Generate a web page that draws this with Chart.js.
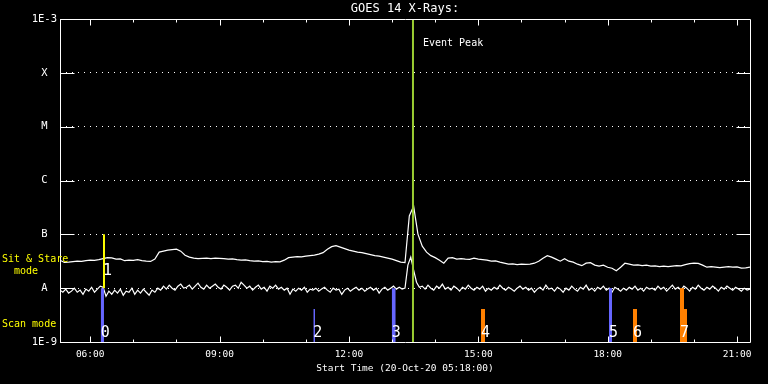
<!DOCTYPE html>
<html><head><meta charset="utf-8">
<script src="https://cdn.jsdelivr.net/npm/chart.js"></script>
<style>html,body{margin:0;padding:0;background:#000;}canvas{display:block;background:#000;}</style>
</head><body>
<canvas id="c" width="768" height="384"></canvas>
<script>
const MONO = '"DejaVu Sans Mono", "Liberation Mono", monospace';
// time axis in hours of day (20-Oct-2020), start 05:18
const START_H = 5.3, END_H = 21.3;
const LONG_STEP_H = 0.1;     // 6-minute cadence (1-8 A channel)
const SHORT_STEP_H = 1 / 15; // 4-minute cadence (0.5-4 A channel)

const longFlux = [
3.31e-8,3.0e-8,3.04e-8,3.11e-8,3.17e-8,3.14e-8,3.24e-8,3.31e-8,3.28e-8,3.38e-8,
3.53e-8,3.69e-8,3.66e-8,3.46e-8,3.49e-8,3.24e-8,3.31e-8,3.28e-8,3.38e-8,3.24e-8,
3.17e-8,3.14e-8,3.46e-8,4.67e-8,4.87e-8,5.08e-8,5.19e-8,5.3e-8,4.87e-8,4.1e-8,
3.77e-8,3.61e-8,3.53e-8,3.57e-8,3.61e-8,3.53e-8,3.61e-8,3.57e-8,3.53e-8,3.46e-8,
3.49e-8,3.38e-8,3.31e-8,3.34e-8,3.24e-8,3.17e-8,3.2e-8,3.11e-8,3.14e-8,3.04e-8,
3.11e-8,3.08e-8,3.31e-8,3.69e-8,3.77e-8,3.85e-8,3.81e-8,3.93e-8,4.02e-8,4.1e-8,
4.28e-8,4.57e-8,5.3e-8,5.9e-8,6.16e-8,5.78e-8,5.42e-8,5.08e-8,4.87e-8,4.67e-8,
4.57e-8,4.37e-8,4.19e-8,4.02e-8,3.93e-8,3.77e-8,3.61e-8,3.46e-8,3.24e-8,3.04e-8,
2.98e-8,2.2e-7,3.35e-7,1.01e-7,6.03e-8,4.67e-8,4.02e-8,3.69e-8,3.31e-8,2.91e-8,
3.61e-8,3.69e-8,3.46e-8,3.53e-8,3.46e-8,3.42e-8,3.61e-8,3.46e-8,3.38e-8,3.31e-8,
3.17e-8,3.2e-8,3.04e-8,2.91e-8,2.79e-8,2.82e-8,2.73e-8,2.79e-8,2.76e-8,2.79e-8,
2.91e-8,3.17e-8,3.61e-8,4.02e-8,3.77e-8,3.46e-8,3.17e-8,3.53e-8,3.17e-8,3.04e-8,
2.79e-8,2.62e-8,2.91e-8,2.98e-8,2.68e-8,2.56e-8,2.68e-8,2.45e-8,2.35e-8,2.11e-8,
2.45e-8,2.91e-8,2.79e-8,2.68e-8,2.71e-8,2.62e-8,2.68e-8,2.56e-8,2.59e-8,2.51e-8,
2.56e-8,2.51e-8,2.56e-8,2.62e-8,2.6e-8,2.73e-8,2.85e-8,2.91e-8,2.88e-8,2.68e-8,
2.45e-8,2.51e-8,2.45e-8,2.4e-8,2.45e-8,2.51e-8,2.45e-8,2.48e-8,2.35e-8,2.38e-8,2.45e-8
];

const shortFlux = [
9.2e-9,8.4e-9,9.6e-9,8.1e-9,8.8e-9,1.0e-8,8.4e-9,9.2e-9,7.7e-9,9.6e-9,8.8e-9,1.04e-8,8.4e-9,9.6e-9,1.09e-8,
1.04e-8,7.1e-9,
8.8e-9,7.7e-9,9.2e-9,8.1e-9,9.6e-9,7.4e-9,8.8e-9,8.4e-9,1.0e-8,7.7e-9,9.2e-9,8.1e-9,9.6e-9,8.4e-9,7.4e-9,9.2e-9,8.4e-9,1.0e-8,
9.2e-9,1.09e-8,9.6e-9,1.14e-8,1.0e-8,9.2e-9,1.09e-8,1.19e-8,1.0e-8,1.04e-8,1.14e-8,9.6e-9,1.09e-8,1.24e-8,1.04e-8,9.6e-9,1.14e-8,1.0e-8,1.09e-8,1.19e-8,1.04e-8,9.6e-9,1.14e-8,1.04e-8,9.2e-9,1.09e-8,
1.14e-8,1.0e-8,1.29e-8,1.14e-8,1.0e-8,1.09e-8,9.2e-9,1.04e-8,1.14e-8,9.6e-9,1.04e-8,8.8e-9,1.09e-8,1.0e-8,1.14e-8,9.6e-9,1.04e-8,9.2e-9,1.0e-8,7.7e-9,
9.6e-9,8.8e-9,1.0e-8,9.2e-9,1.04e-8,8.4e-9,9.6e-9,9.2e-9,1.0e-8,8.8e-9,
9.6e-9,1.04e-8,9.2e-9,8.4e-9,1.0e-8,9.2e-9,9.6e-9,7.7e-9,9.2e-9,1.0e-8,
8.8e-9,9.6e-9,1.04e-8,9.2e-9,1.0e-8,8.8e-9,9.6e-9,1.04e-8,9.2e-9,1.0e-8,
8.1e-9,9.6e-9,1.04e-8,9.2e-9,1.0e-8,1.09e-8,9.6e-9,1.04e-8,9.6e-9,1.0e-8,
2.68e-8,3.77e-8,2.16e-8,1.29e-8,1.04e-8,
1.09e-8,9.6e-9,1.14e-8,1.0e-8,9.2e-9,1.09e-8,1.0e-8,1.19e-8,9.6e-9,1.04e-8,
9.2e-9,1.09e-8,1.0e-8,8.8e-9,1.04e-8,9.6e-9,1.14e-8,1.0e-8,9.2e-9,1.04e-8,
9.6e-9,1.09e-8,8.8e-9,1.0e-8,9.2e-9,1.04e-8,9.6e-9,1.14e-8,1.0e-8,9.2e-9,
1.04e-8,9.6e-9,8.8e-9,1.0e-8,1.09e-8,9.6e-9,1.04e-8,9.2e-9,1.0e-8,8.4e-9,
9.6e-9,1.04e-8,9.2e-9,1.14e-8,9.6e-9,1.0e-8,8.8e-9,1.04e-8,9.6e-9,8.4e-9,
1.0e-8,9.2e-9,1.09e-8,9.6e-9,8.8e-9,1.04e-8,9.6e-9,1.14e-8,9.2e-9,1.0e-8,
8.8e-9,1.04e-8,9.6e-9,1.09e-8,9.2e-9,1.0e-8,8.4e-9,1.04e-8,9.6e-9,8.8e-9,
1.0e-8,9.2e-9,1.04e-8,9.6e-9,1.09e-8,9.2e-9,1.0e-8,8.8e-9,1.04e-8,9.6e-9,
1.0e-8,9.2e-9,1.09e-8,9.6e-9,1.04e-8,8.8e-9,1.0e-8,1.14e-8,9.6e-9,1.04e-8,
9.2e-9,1.09e-8,1.0e-8,8.8e-9,1.04e-8,9.6e-9,1.14e-8,1.0e-8,9.2e-9,1.04e-8,
9.6e-9,1.09e-8,1.0e-8,8.8e-9,1.04e-8,9.6e-9,1.09e-8,1.0e-8,9.2e-9,1.04e-8,
9.6e-9,8.8e-9,1.0e-8,9.2e-9,9.6e-9
];

const yTickValues = [1e-9, 1e-8, 1e-7, 1e-6, 1e-5, 1e-4, 1e-3];
const yTickLabels = ['1E-9', 'A', 'B', 'C', 'M', 'X', '1E-3'];
const xTickHours = [6, 9, 12, 15, 18, 21];
const xTickLabels = ['06:00', '09:00', '12:00', '15:00', '18:00', '21:00'];
const hourMarks = [6, 7, 8, 9, 10, 11, 12, 13, 14, 15, 16, 17, 18, 19, 20, 21];

const eventPeakHour = 13.485;

// observation bars (hours of day), flux extent
const barLabels = ['0', '1', '2', '3', '4', '5', '6', '7', ''];
const barMode   = ['scan', 'stare', 'scan', 'scan', 'scan', 'scan', 'scan', 'scan', 'scan'];
const barStart  = [6.244, 6.297, 11.174, 12.992, 15.062, 18.030, 18.587, 19.677, 19.770];
const barEnd    = [6.320, 6.343, 11.213, 13.085, 15.155, 18.100, 18.680, 19.770, 19.840];
const barBottom = [1e-9, 1e-8, 1e-9, 1e-9, 1e-9, 1e-9, 1e-9, 1e-9, 1e-9];
const barTop    = [1e-8, 1e-7, 4.1e-9, 1e-8, 4.1e-9, 1e-8, 4.1e-9, 1e-8, 4.1e-9];
// styles
const barColors = ['#6666ff', '#ffff00', '#6666ff', '#6666ff', '#ff8000', '#6666ff', '#ff8000', '#ff8000', '#ff8000'];

const longData = longFlux.map((v, i) => ({ x: START_H + i * LONG_STEP_H, y: v }));
const shortData = shortFlux.map((v, i) => ({ x: START_H + i * SHORT_STEP_H, y: v }));

const barDatasets = barStart.map((s, i) => ({
  data: [{ x: s, y: barTop[i] }, { x: barEnd[i], y: barTop[i] }],
  fill: { value: barBottom[i] },
  backgroundColor: barColors[i], borderColor: barColors[i], borderWidth: 0,
  pointRadius: 0, order: 1
}));

const framePlugin = {
  id: 'frame',
  afterDatasetsDraw(chart) {
    const { ctx, chartArea: a, scales: { x, y } } = chart;
    const L = Math.round(a.left) + 0.5, R = Math.round(a.right) + 0.5;
    const T = Math.round(a.top) + 0.5, B = Math.round(a.bottom) + 0.5;
    ctx.save();
    ctx.strokeStyle = '#fff'; ctx.lineWidth = 1;
    ctx.beginPath();
    ctx.rect(L, T, R - L, B - T);
    hourMarks.forEach(h => {
      const px = Math.round(x.getPixelForValue(h)) + 0.5;
      const len = xTickHours.includes(h) ? 6 : 3;
      ctx.moveTo(px, B); ctx.lineTo(px, B - len);
      ctx.moveTo(px, T); ctx.lineTo(px, T + len);
    });
    yTickValues.slice(1, -1).forEach(v => {
      const py = Math.round(y.getPixelForValue(v)) + 0.5;
      ctx.moveTo(L, py); ctx.lineTo(L + 14, py);
      ctx.moveTo(R - 14, py); ctx.lineTo(R, py);
    });
    ctx.stroke();
    ctx.restore();
  }
};

const annotPlugin = {
  id: 'annot',
  afterDatasetsDraw(chart) {
    const { ctx, chartArea: a, scales: { x, y } } = chart;
    ctx.save();
    ctx.textBaseline = 'middle'; ctx.textAlign = 'left';
    ctx.font = '10px ' + MONO;
    ctx.fillStyle = '#fff';
    ctx.fillText('Event Peak', x.getPixelForValue(eventPeakHour) + 10, a.top + 24);
    ctx.fillStyle = '#ffff00';
    ctx.fillText('Sit & Stare', 2, 259);
    ctx.fillText('  mode', 2, 271);
    ctx.fillText('Scan mode', 2, 324);
    ctx.font = '15px ' + MONO;
    ctx.fillStyle = '#fff';
    barLabels.forEach((t, i) => {
      if (!t) return;
      const px = x.getPixelForValue(barStart[i]);
      const py = barMode[i] === 'stare' ? y.getPixelForValue(barBottom[i]) - 17 : a.bottom - 9;
      ctx.fillText(t, px, py);
    });
    ctx.restore();
  }
};

Chart.defaults.color = '#fff';

new Chart(document.getElementById('c'), {
  type: 'line',
  data: {
    datasets: [
      { data: [{ x: eventPeakHour, y: 1e-9 }, { x: eventPeakHour, y: 1e-3 }],
        borderColor: '#9acd32', borderWidth: 2, pointRadius: 0, order: 0 },
      ...barDatasets,
      { data: longData, borderColor: '#ffffff', borderWidth: 1.2, pointRadius: 0, tension: 0, order: 2 },
      { data: shortData, borderColor: '#ffffff', borderWidth: 1.2, pointRadius: 0, tension: 0, order: 2 }
    ]
  },
  options: {
    responsive: false, animation: false, devicePixelRatio: 1,
    layout: { padding: { left: 0, right: 18, top: 0, bottom: 0 } },
    plugins: {
      legend: { display: false }, tooltip: { enabled: false },
      title: { display: true, text: 'GOES 14 X-Rays:', color: '#fff', fullSize: false,
        font: { family: MONO, size: 12, weight: 'normal' }, padding: { top: 2, bottom: 2.6 } }
    },
    scales: {
      x: {
        type: 'linear', position: 'bottom', min: START_H, max: END_H,
        grid: { display: false, drawTicks: false }, border: { display: false },
        afterBuildTicks: s => { s.ticks = xTickHours.map(v => ({ value: v })); },
        ticks: { autoSkip: false, maxRotation: 0, padding: 7, color: '#fff',
          font: { family: MONO, size: 9.5 }, callback: (v, i) => xTickLabels[i] },
        title: { display: true, text: 'Start Time (20-Oct-20 05:18:00)', color: '#fff',
          font: { family: MONO, size: 9.5 }, padding: { top: 0, bottom: 10 } },
        afterFit: s => { s.height = 42; }
      },
      y: {
        type: 'logarithmic', position: 'left', min: 1e-9, max: 1e-3,
        afterBuildTicks: s => { s.ticks = yTickValues.map(v => ({ value: v })); },
        grid: { color: '#ffffff', lineWidth: 1, drawTicks: false },
        border: { display: false, dash: [1, 5] },
        ticks: { crossAlign: 'center', padding: 3, color: '#fff',
          font: { family: MONO, size: 10.5 }, callback: (v, i) => yTickLabels[i] },
        afterFit: s => { s.width = 60; }
      }
    }
  },
  plugins: [framePlugin, annotPlugin]
});
</script>
</body></html>
